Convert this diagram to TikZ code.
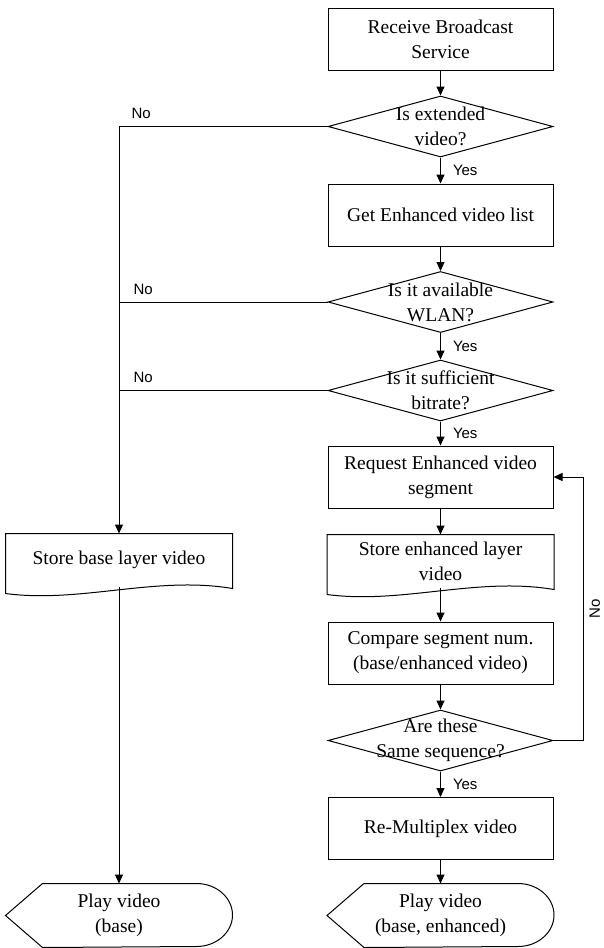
\documentclass[tikz,border=0pt]{standalone}
\usepackage{fontspec}
\setmainfont{Liberation Serif}
\newfontfamily\lblfont{Liberation Sans}
\usetikzlibrary{arrows.meta,shapes.geometric,calc}
\begin{document}
\begin{tikzpicture}[x=1pt,y=-1pt,line width=1pt,
    >={Triangle[length=9pt,width=8pt]},
    boxfont/.style={font=\fontsize{19.5}{25}\selectfont},
    proc/.style={draw,rectangle,minimum width=225pt,minimum height=62pt,inner sep=0pt,align=center,boxfont},
    decision/.style={draw,diamond,minimum width=225pt,minimum height=61pt,inner sep=0pt},
    dtext/.style={align=center,inner sep=0pt,boxfont},
    docbox/.style={rectangle,minimum width=226pt,minimum height=52pt,inner sep=0pt,align=center,boxfont},
    dispbox/.style={rectangle,minimum width=226pt,minimum height=63pt,inner sep=0pt,align=center,boxfont},
    lbl/.style={font=\lblfont\fontsize{15}{17}\selectfont,inner sep=0pt},
    yeslbl/.style={lbl,midway,anchor=west,xshift=12pt}]
    \useasboundingbox (0,0) rectangle (603,948);

    \node[proc] (recv) at (440.5,39) {Receive Broadcast\\Service};
    \node[decision] (d1) at (440.5,126.5) {};
    \node[dtext] (d1t) at (d1) {Is extended\\video?};
    \node[proc] (getlist) at (440.5,215) {Get Enhanced video list};
    \node[decision] (d2) at (440.5,302) {};
    \node[dtext] (d2t) at (d2) {Is it available\\WLAN?};
    \node[decision] (d3) at (440.5,390.5) {};
    \node[dtext] (d3t) at (d3) {Is it sufficient\\bitrate?};
    \node[proc] (req) at (440.5,477) {Request Enhanced video\\segment};
    \node[docbox] (storeE) at (440.5,561) {Store enhanced layer\\video};
    \node[proc] (cmp) at (440.5,653) {Compare segment num.\\(base/enhanced video)};
    \node[decision] (d4) at (440.5,740.5) {};
    \node[dtext] (d4t) at (d4) {Are these\\Same sequence?};
    \node[proc] (remux) at (440.5,828.5) {Re-Multiplex video};
    \node[dispbox] (playE) at (440.5,915.5) {Play video\\(base, enhanced)};
    \node[docbox] (storeB) at (119,560) {Store base layer video};
    \node[dispbox] (playB) at (119,915.5) {Play video\\(base)};

    \foreach \n in {storeB,storeE}
        \draw ($(\n.south west)+(0,7)$) -- (\n.north west) -- (\n.north east) -- ($(\n.south east)+(0,2)$)
            .. controls ($(\n.south west)+(150,-11)$) and ($(\n.south west)+(75,17)$) .. ($(\n.south west)+(0,7)$);
    \foreach \n in {playB,playE}
        \draw (\n.west) -- ($(\n.north west)+(37,0)$) -- ($(\n.north east)+(-36,0)$)
            arc[start angle=90,end angle=-90,x radius=36pt,y radius=31.5pt] -- ($(\n.south west)+(37,0)$) -- cycle;

    \draw[->] (recv) -- (d1);
    \draw[->] (d1) -- node[yeslbl] {Yes} (getlist);
    \draw[->] (getlist) -- (d2);
    \draw[->] (d2) -- node[yeslbl] {Yes} (d3);
    \draw[->] (d3) -- node[yeslbl] {Yes} (req);
    \draw[->] (req) -- (storeE);
    \draw[->] (storeE) -- (cmp);
    \draw[->] (cmp) -- (d4);
    \draw[->] (d4) -- node[yeslbl] {Yes} (remux);
    \draw[->] (remux) -- (playE);
    \draw[->] (storeB) -- (playB);

    \draw[->] (d1.west) -| node[lbl,pos=0.5,anchor=south west,xshift=12pt,yshift=7pt] {No} (storeB.north);
    \draw (d2.west) -- node[lbl,pos=1,anchor=south west,xshift=14pt,yshift=7pt] {No} (d2.west -| storeB.north);
    \draw (d3.west) -- node[lbl,pos=1,anchor=south west,xshift=14pt,yshift=7pt] {No} (d3.west -| storeB.north);

    \coordinate (loopc) at ($(d4.east)+(30,0)$);
    \draw[->] (d4.east) -- (loopc) |- node[lbl,pos=0.25,rotate=90,anchor=north,inner sep=5.5pt] {No} (req.east);
\end{tikzpicture}
\end{document}
